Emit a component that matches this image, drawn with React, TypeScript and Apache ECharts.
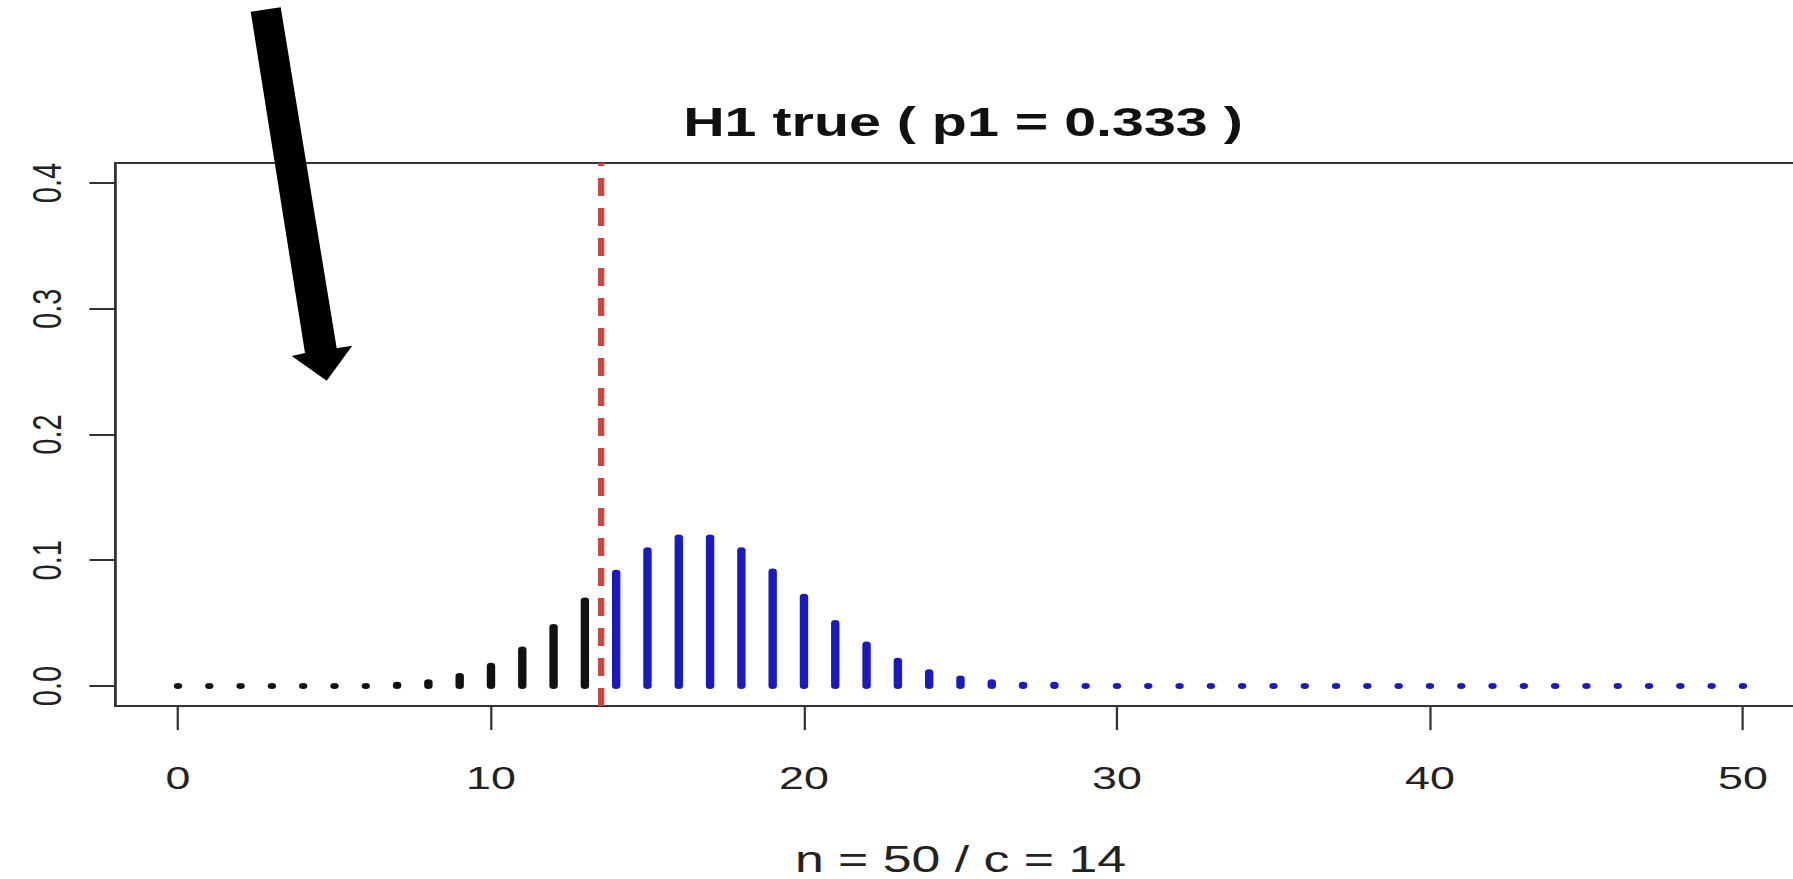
import React, { useEffect, useRef } from "react";
import * as echarts from "echarts";

// ---- data ----
const successes = [
  0, 1, 2, 3, 4, 5, 6, 7, 8, 9,
  10, 11, 12, 13, 14, 15, 16, 17, 18, 19,
  20, 21, 22, 23, 24, 25, 26, 27, 28, 29,
  30, 31, 32, 33, 34, 35, 36, 37, 38, 39,
  40, 41, 42, 43, 44, 45, 46, 47, 48, 49, 50,
];
const probabilities = [
  0, 0, 0, 0, 0, 0, 0, 0.001, 0.003, 0.008,
  0.016, 0.029, 0.047, 0.068, 0.09, 0.108, 0.118, 0.118, 0.108, 0.091,
  0.071, 0.05, 0.033, 0.02, 0.011, 0.006, 0.003, 0.001, 0.001, 0,
  0, 0, 0, 0, 0, 0, 0, 0, 0, 0,
  0, 0, 0, 0, 0, 0, 0, 0, 0, 0, 0,
];
const criticalValue = 14;
const xTickValues = [0, 10, 20, 30, 40, 50];
const yTickValues = [0, 0.1, 0.2, 0.3, 0.4];
const titleText = "H1 true ( p1 = 0.333 )";
const xAxisTitle = "n = 50 / c = 14";

// ---- layout (the reference picture is stretched horizontally) ----
const FULL_W = 1793;
const FULL_H = 879;
const INNER_W = 1281;
const SX = FULL_W / INNER_W;
const FONT = "Liberation Sans";
const BLACK = "#111111";
const BLUE = "#1a1abf";

export default function App() {
  const ref = useRef<HTMLDivElement>(null);

  useEffect(() => {
    if (!ref.current) return;
    const chart = echarts.init(ref.current, null, { renderer: "svg" });
    const data = successes.map((x, i) => [x, probabilities[i]]);
    const arrowFull = [
      [250.7, 11.7],
      [280.7, 7.3],
      [336.7, 348.3],
      [352.3, 345.7],
      [326.7, 380.7],
      [291.7, 356],
      [305, 353],
    ];
    const arrowPts = arrowFull.map(([x, y]) => [x / SX, y]);

    chart.setOption({
      animation: false,
      backgroundColor: "#ffffff",
      textStyle: { fontFamily: FONT },
      grid: {
        left: 82.45,
        top: 162.9,
        width: 1207.5,
        height: 543.2,
        show: true,
        borderColor: "#333333",
        borderWidth: 2,
        backgroundColor: "transparent",
        containLabel: false,
        outerBoundsMode: "none",
      },
      xAxis: {
        type: "value",
        min: -2,
        max: 52,
        axisLine: { show: false, onZero: false },
        splitLine: { show: false },
        axisTick: {
          show: true,
          length: 24,
          customValues: xTickValues,
          lineStyle: { color: "#333333", width: 1.6 },
        },
        axisLabel: {
          customValues: xTickValues,
          margin: 72,
          fontSize: 32,
          fontFamily: FONT,
          color: "#222222",
          verticalAlign: "middle",
        },
        name: xAxisTitle,
        nameLocation: "middle",
        nameGap: 153,
        nameTextStyle: {
          fontSize: 37,
          fontFamily: FONT,
          color: "#222222",
          verticalAlign: "middle",
        },
      },
      yAxis: {
        type: "value",
        min: -0.016,
        max: 0.416,
        axisLine: { show: false, onZero: false },
        splitLine: { show: false },
        axisTick: {
          show: true,
          length: 18.6,
          customValues: yTickValues,
          lineStyle: { color: "#333333", width: 2 },
        },
        axisLabel: {
          customValues: yTickValues,
          rotate: 90,
          margin: 49,
          fontSize: 29,
          fontFamily: FONT,
          color: "#222222",
          align: "center",
          verticalAlign: "middle",
          formatter: (v: number) => v.toFixed(1),
        },
      },
      graphic: [
        {
          type: "text",
          x: 688,
          y: 122.5,
          style: {
            text: titleText,
            fontFamily: FONT,
            fontWeight: "bold",
            fontSize: 41,
            fill: "#111111",
            align: "center",
            verticalAlign: "middle",
          },
        },
        {
          type: "polygon",
          z: 100,
          shape: { points: arrowPts },
          style: { fill: "#000000" },
        },
      ],
      series: [
        {
          type: "custom",
          data,
          encode: { x: 0, y: 1 },
          renderItem: (params: any, api: any) => {
            const x = api.value(0);
            const y = api.value(1);
            const base = api.coord([x, 0]);
            const top = api.coord([x, y]);
            return {
              type: "line",
              shape: {
                x1: base[0],
                y1: base[1],
                x2: top[0],
                y2: Math.min(top[1], base[1] - 0.01),
              },
              style: {
                stroke: x >= criticalValue ? BLUE : BLACK,
                lineWidth: 6,
                lineCap: "round",
              },
            };
          },
          markLine: {
            silent: true,
            symbol: ["none", "none"],
            label: { show: false },
            lineStyle: { color: "#c84848", width: 4.5, type: [18, 12] },
            data: [{ xAxis: criticalValue - 0.5 }],
          },
        },
      ],
    });

    return () => {
      chart.dispose();
    };
  }, []);

  return (
    <div
      style={{
        position: "absolute",
        left: 0,
        top: 0,
        width: FULL_W,
        height: FULL_H,
        overflow: "hidden",
        background: "#ffffff",
      }}
    >
      <div
        ref={ref}
        style={{
          width: INNER_W,
          height: FULL_H,
          transform: `scaleX(${SX})`,
          transformOrigin: "0 0",
        }}
      />
    </div>
  );
}
